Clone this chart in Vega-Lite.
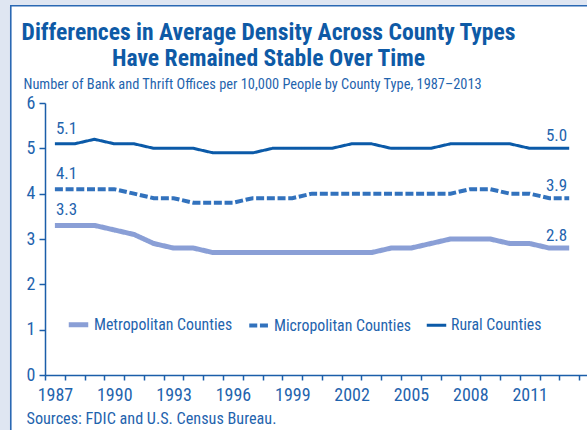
{
  "$schema": "https://vega.github.io/schema/vega-lite/v6.json",
  "width": 542,
  "height": 272,
  "autosize": {"type": "none"},
  "padding": {"left": 45, "top": 103, "right": 0, "bottom": 55},
  "background": "#dfe6f2",
  "config": {
    "view": {"stroke": null},
    "font": "Roboto Condensed, DejaVu Sans Condensed, Liberation Sans Narrow, Liberation Sans",
    "axis": {
      "labelFont": "Roboto Condensed, DejaVu Sans Condensed, Liberation Sans Narrow, Liberation Sans",
      "titleFont": "Roboto Condensed, DejaVu Sans Condensed, Liberation Sans Narrow, Liberation Sans",
      "labelFontSize": 18,
      "labelColor": "#1f64ae",
      "titleColor": "#1f64ae",
      "titleFontWeight": "normal",
      "domainColor": "#1b5ea9",
      "tickColor": "#1b5ea9",
      "domainWidth": 1.5,
      "tickWidth": 1.5,
      "grid": false
    },
    "legend": {"zindex": 1}
  },
  "data": {
    "values": [
      {"year": 1987, "series": "Metropolitan Counties", "value": 3.3},
      {"year": 1988, "series": "Metropolitan Counties", "value": 3.3},
      {"year": 1989, "series": "Metropolitan Counties", "value": 3.3},
      {"year": 1990, "series": "Metropolitan Counties", "value": 3.2},
      {"year": 1991, "series": "Metropolitan Counties", "value": 3.1},
      {"year": 1992, "series": "Metropolitan Counties", "value": 2.9},
      {"year": 1993, "series": "Metropolitan Counties", "value": 2.8},
      {"year": 1994, "series": "Metropolitan Counties", "value": 2.8},
      {"year": 1995, "series": "Metropolitan Counties", "value": 2.7},
      {"year": 1996, "series": "Metropolitan Counties", "value": 2.7},
      {"year": 1997, "series": "Metropolitan Counties", "value": 2.7},
      {"year": 1998, "series": "Metropolitan Counties", "value": 2.7},
      {"year": 1999, "series": "Metropolitan Counties", "value": 2.7},
      {"year": 2000, "series": "Metropolitan Counties", "value": 2.7},
      {"year": 2001, "series": "Metropolitan Counties", "value": 2.7},
      {"year": 2002, "series": "Metropolitan Counties", "value": 2.7},
      {"year": 2003, "series": "Metropolitan Counties", "value": 2.7},
      {"year": 2004, "series": "Metropolitan Counties", "value": 2.8},
      {"year": 2005, "series": "Metropolitan Counties", "value": 2.8},
      {"year": 2006, "series": "Metropolitan Counties", "value": 2.9},
      {"year": 2007, "series": "Metropolitan Counties", "value": 3.0},
      {"year": 2008, "series": "Metropolitan Counties", "value": 3.0},
      {"year": 2009, "series": "Metropolitan Counties", "value": 3.0},
      {"year": 2010, "series": "Metropolitan Counties", "value": 2.9},
      {"year": 2011, "series": "Metropolitan Counties", "value": 2.9},
      {"year": 2012, "series": "Metropolitan Counties", "value": 2.8},
      {"year": 2013, "series": "Metropolitan Counties", "value": 2.8},
      {"year": 1987, "series": "Micropolitan Counties", "value": 4.1},
      {"year": 1988, "series": "Micropolitan Counties", "value": 4.1},
      {"year": 1989, "series": "Micropolitan Counties", "value": 4.1},
      {"year": 1990, "series": "Micropolitan Counties", "value": 4.1},
      {"year": 1991, "series": "Micropolitan Counties", "value": 4.0},
      {"year": 1992, "series": "Micropolitan Counties", "value": 3.9},
      {"year": 1993, "series": "Micropolitan Counties", "value": 3.9},
      {"year": 1994, "series": "Micropolitan Counties", "value": 3.8},
      {"year": 1995, "series": "Micropolitan Counties", "value": 3.8},
      {"year": 1996, "series": "Micropolitan Counties", "value": 3.8},
      {"year": 1997, "series": "Micropolitan Counties", "value": 3.9},
      {"year": 1998, "series": "Micropolitan Counties", "value": 3.9},
      {"year": 1999, "series": "Micropolitan Counties", "value": 3.9},
      {"year": 2000, "series": "Micropolitan Counties", "value": 4.0},
      {"year": 2001, "series": "Micropolitan Counties", "value": 4.0},
      {"year": 2002, "series": "Micropolitan Counties", "value": 4.0},
      {"year": 2003, "series": "Micropolitan Counties", "value": 4.0},
      {"year": 2004, "series": "Micropolitan Counties", "value": 4.0},
      {"year": 2005, "series": "Micropolitan Counties", "value": 4.0},
      {"year": 2006, "series": "Micropolitan Counties", "value": 4.0},
      {"year": 2007, "series": "Micropolitan Counties", "value": 4.0},
      {"year": 2008, "series": "Micropolitan Counties", "value": 4.1},
      {"year": 2009, "series": "Micropolitan Counties", "value": 4.1},
      {"year": 2010, "series": "Micropolitan Counties", "value": 4.0},
      {"year": 2011, "series": "Micropolitan Counties", "value": 4.0},
      {"year": 2012, "series": "Micropolitan Counties", "value": 3.9},
      {"year": 2013, "series": "Micropolitan Counties", "value": 3.9},
      {"year": 1987, "series": "Rural Counties", "value": 5.1},
      {"year": 1988, "series": "Rural Counties", "value": 5.1},
      {"year": 1989, "series": "Rural Counties", "value": 5.2},
      {"year": 1990, "series": "Rural Counties", "value": 5.1},
      {"year": 1991, "series": "Rural Counties", "value": 5.1},
      {"year": 1992, "series": "Rural Counties", "value": 5.0},
      {"year": 1993, "series": "Rural Counties", "value": 5.0},
      {"year": 1994, "series": "Rural Counties", "value": 5.0},
      {"year": 1995, "series": "Rural Counties", "value": 4.9},
      {"year": 1996, "series": "Rural Counties", "value": 4.9},
      {"year": 1997, "series": "Rural Counties", "value": 4.9},
      {"year": 1998, "series": "Rural Counties", "value": 5.0},
      {"year": 1999, "series": "Rural Counties", "value": 5.0},
      {"year": 2000, "series": "Rural Counties", "value": 5.0},
      {"year": 2001, "series": "Rural Counties", "value": 5.0},
      {"year": 2002, "series": "Rural Counties", "value": 5.1},
      {"year": 2003, "series": "Rural Counties", "value": 5.1},
      {"year": 2004, "series": "Rural Counties", "value": 5.0},
      {"year": 2005, "series": "Rural Counties", "value": 5.0},
      {"year": 2006, "series": "Rural Counties", "value": 5.0},
      {"year": 2007, "series": "Rural Counties", "value": 5.1},
      {"year": 2008, "series": "Rural Counties", "value": 5.1},
      {"year": 2009, "series": "Rural Counties", "value": 5.1},
      {"year": 2010, "series": "Rural Counties", "value": 5.1},
      {"year": 2011, "series": "Rural Counties", "value": 5.0},
      {"year": 2012, "series": "Rural Counties", "value": 5.0},
      {"year": 2013, "series": "Rural Counties", "value": 5.0}
    ]
  },
  "layer": [
    {
      "data": {"values": [{}]},
      "mark": {"type": "rect", "fill": "#ffffff", "stroke": "#2a68b3", "strokeWidth": 1.6},
      "encoding": {
        "x": {
          "datum": 1984.77,
          "type": "quantitative",
          "scale": {"domain": [1986.5, 2013.9], "nice": false, "zero": false},
          "axis": {
            "orient": "top",
            "zindex": 1,
            "domain": false,
            "ticks": false,
            "labels": false,
            "title": ["Differences in Average Density Across County Types", "Have Remained Stable Over Time"],
            "titleFontSize": 23.6,
            "titleFontWeight": "bold",
            "titleColor": "#0e5aa6",
            "titleLineHeight": 26,
            "titleX": 223,
            "titleY": -64,
            "titleAlign": "center",
            "titleBaseline": "alphabetic",
            "titleAngle": 0
          }
        },
        "x2": {"datum": 2016},
        "y": {
          "datum": 8.144,
          "type": "quantitative",
          "scale": {"domain": [0, 6], "nice": false},
          "axis": {
            "orient": "left",
            "zindex": 1,
            "values": [0, 1, 2, 3, 4, 5, 6],
            "tickSize": 6,
            "labelPadding": 4,
            "title": "Number of Bank and Thrift Offices per 10,000 People by County Type, 1987–2013",
            "titleFontSize": 14.4,
            "titleX": -22,
            "titleY": -14.5,
            "titleAlign": "left",
            "titleBaseline": "alphabetic",
            "titleAngle": 0
          }
        },
        "y2": {"datum": -3}
      }
    },
    {
      "mark": {"type": "line", "interpolate": "linear"},
      "encoding": {
        "x": {
          "field": "year",
          "type": "quantitative",
          "scale": {"domain": [1986.5, 2013.9], "nice": false, "zero": false},
          "axis": {
            "orient": "bottom",
            "zindex": 1,
            "values": [1986.5, 1987.5, 1988.5, 1989.5, 1990.5, 1991.5, 1992.5, 1993.5, 1994.5, 1995.5, 1996.5, 1997.5, 1998.5, 1999.5, 2000.5, 2001.5, 2002.5, 2003.5, 2004.5, 2005.5, 2006.5, 2007.5, 2008.5, 2009.5, 2010.5, 2011.5, 2012.5, 2013.5],
            "labelExpr": "(datum.value - 1986.5) % 3 == 0 && datum.value < 2013 ? format(datum.value + 0.5, 'd') : ''",
            "labelOffset": 9.9,
            "labelOverlap": false,
            "labelFlush": false,
            "labelBound": false,
            "tickSize": 5,
            "labelPadding": 6,
            "title": "Sources: FDIC and U.S. Census Bureau.",
            "titleFontSize": 16.2,
            "titleX": -19,
            "titleY": 48,
            "titleAlign": "left",
            "titleBaseline": "alphabetic",
            "titleAngle": 0
          }
        },
        "y": {
          "field": "value",
          "type": "quantitative",
          "scale": {"domain": [0, 6], "nice": false}
        },
        "color": {
          "field": "series",
          "type": "nominal",
          "scale": {
            "domain": ["Metropolitan Counties", "Micropolitan Counties", "Rural Counties"],
            "range": ["#8a9fd6", "#3272bd", "#0b5aa8"]
          },
          "legend": {
            "orient": "none",
            "legendX": 21,
            "legendY": 209,
            "direction": "horizontal",
            "title": null,
            "padding": 0,
            "columnPadding": 8,
            "labelOffset": 3,
            "labelFont": "Roboto Condensed, DejaVu Sans Condensed, Liberation Sans Narrow, Liberation Sans",
            "labelFontSize": 15.8,
            "labelColor": "#1f64ae",
            "symbolType": "stroke",
            "symbolSize": 380
          }
        },
        "strokeDash": {
          "field": "series",
          "type": "nominal",
          "scale": {
            "domain": ["Metropolitan Counties", "Micropolitan Counties", "Rural Counties"],
            "range": [[1, 0], [8, 2.7], [1, 0]]
          },
          "legend": {
            "orient": "none",
            "legendX": 21,
            "legendY": 209,
            "direction": "horizontal",
            "title": null
          }
        },
        "strokeWidth": {
          "field": "series",
          "type": "nominal",
          "scale": {
            "domain": ["Metropolitan Counties", "Micropolitan Counties", "Rural Counties"],
            "range": [5, 3, 3]
          },
          "legend": {
            "orient": "none",
            "legendX": 21,
            "legendY": 209,
            "direction": "horizontal",
            "title": null
          }
        }
      }
    },
    {
      "transform": [{"filter": "datum.year == 1987"}],
      "mark": {"type": "text", "align": "left", "baseline": "alphabetic", "dx": 1, "dy": -10, "fontSize": 17, "font": "Roboto Condensed, DejaVu Sans Condensed, Liberation Sans Narrow, Liberation Sans", "color": "#1f64ae"},
      "encoding": {
        "x": {"field": "year", "type": "quantitative", "axis": null},
        "y": {"field": "value", "type": "quantitative"},
        "text": {"field": "value", "type": "quantitative", "format": ".1f"}
      }
    },
    {
      "transform": [{"filter": "datum.year == 2013"}],
      "mark": {"type": "text", "align": "right", "baseline": "alphabetic", "dx": -2, "dy": -7, "fontSize": 17, "font": "Roboto Condensed, DejaVu Sans Condensed, Liberation Sans Narrow, Liberation Sans", "color": "#1f64ae"},
      "encoding": {
        "x": {"field": "year", "type": "quantitative", "axis": null},
        "y": {"field": "value", "type": "quantitative"},
        "text": {"field": "value", "type": "quantitative", "format": ".1f"}
      }
    }
  ]
}
